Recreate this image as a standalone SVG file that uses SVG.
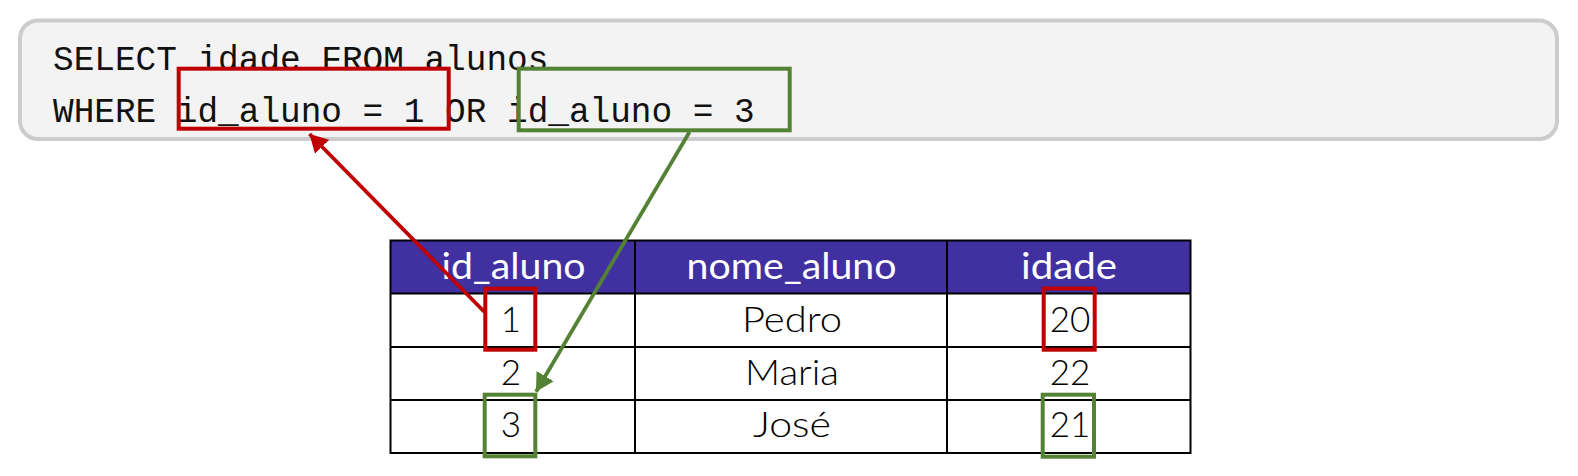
<svg xmlns="http://www.w3.org/2000/svg" width="1578" height="476" viewBox="0 0 1578 476">
  <style>
    .code { font-family: "Liberation Mono", "DejaVu Sans Mono", monospace; font-size: 34.4px; fill: #111111; }
    .th { font-family: "Lato", "Noto Sans", sans-serif; font-size: 36px; fill: #ffffff; text-anchor: middle; }
    .td { font-family: "Lato", "Noto Sans", sans-serif; font-size: 35px; font-weight: 300; fill: #000000; text-anchor: middle; }
    .grid { fill: none; stroke: #000000; stroke-width: 2; }
    .hl-red { fill: none; stroke: #c00000; stroke-width: 4; }
    .hl-green { fill: none; stroke: #548235; stroke-width: 4; }
    .conn-red { fill: none; stroke: #c00000; stroke-width: 3.8; }
    .conn-green { fill: none; stroke: #548235; stroke-width: 3.8; }
  </style>
  <defs>
    <marker id="arrow-red" markerUnits="userSpaceOnUse" markerWidth="20" markerHeight="22" refX="18" refY="10" orient="auto">
      <path d="M0,0 L18,10 L0,20 Z" fill="#c00000"/>
    </marker>
    <marker id="arrow-green" markerUnits="userSpaceOnUse" markerWidth="20" markerHeight="22" refX="18" refY="10" orient="auto">
      <path d="M0,0 L18,10 L0,20 Z" fill="#548235"/>
    </marker>
  </defs>
  <rect width="1578" height="476" fill="#ffffff"/>

  <g id="query">
    <rect x="20" y="20.5" width="1537" height="118.5" rx="18" ry="18" fill="#f3f3f3" stroke="#cccccc" stroke-width="4"/>
    <text class="code" x="53" y="69.5" xml:space="preserve">SELECT idade FROM alunos</text>
    <text class="code" x="53" y="121.7" xml:space="preserve">WHERE id_aluno = 1 OR id_aluno = 3</text>
  </g>

  <g id="cond-1">
    <rect class="hl-red" x="178.7" y="68.7" width="270" height="60"/>
  </g>
  <g id="cond-3">
    <rect class="hl-green" x="518.7" y="68.7" width="271" height="61.6"/>
  </g>

  <g id="table-alunos">
    <rect x="390.5" y="240.5" width="800" height="53" fill="#4130a0"/>
    <rect x="390.5" y="293.5" width="800" height="159.5" fill="#ffffff"/>
    <rect class="grid" x="390.5" y="240.5" width="800" height="212.5"/>
    <line class="grid" x1="390.5" y1="293.5" x2="1190.5" y2="293.5"/>
    <line class="grid" x1="390.5" y1="347" x2="1190.5" y2="347"/>
    <line class="grid" x1="390.5" y1="400" x2="1190.5" y2="400"/>
    <line class="grid" x1="635" y1="240.5" x2="635" y2="453"/>
    <line class="grid" x1="947" y1="240.5" x2="947" y2="453"/>
    <text class="th" x="513.5" y="279.3" textLength="144" lengthAdjust="spacingAndGlyphs">id_aluno</text>
    <text class="th" x="791.5" y="279.3" textLength="210" lengthAdjust="spacingAndGlyphs">nome_aluno</text>
    <text class="th" x="1069" y="279.3" textLength="96" lengthAdjust="spacingAndGlyphs">idade</text>
    <text class="td" x="511" y="332.3">1</text>
    <text class="td" x="792" y="332.3" textLength="100" lengthAdjust="spacingAndGlyphs">Pedro</text>
    <text class="td" x="1070" y="332.3">20</text>
    <text class="td" x="511" y="385.3">2</text>
    <text class="td" x="792" y="385.3" textLength="94" lengthAdjust="spacingAndGlyphs">Maria</text>
    <text class="td" x="1070" y="385.3">22</text>
    <text class="td" x="511" y="437">3</text>
    <text class="td" x="792" y="437" textLength="78" lengthAdjust="spacingAndGlyphs">José</text>
    <text class="td" x="1070" y="437">21</text>
  </g>

  <g id="cell-id-1">
    <rect class="hl-red" x="485.3" y="288.7" width="50" height="61"/>
  </g>
  <g id="cell-idade-20">
    <rect class="hl-red" x="1043.7" y="288.5" width="51" height="61.2"/>
  </g>
  <g id="cell-id-3">
    <rect class="hl-green" x="484.7" y="394.7" width="50.6" height="61.6"/>
  </g>
  <g id="cell-idade-21">
    <rect class="hl-green" x="1042.7" y="394.7" width="51.3" height="62"/>
  </g>

  <g id="connectors">
    <line class="conn-red" x1="484.5" y1="312" x2="309.5" y2="134" marker-end="url(#arrow-red)"/>
    <line class="conn-green" x1="689.5" y1="132" x2="536" y2="391.7" marker-end="url(#arrow-green)"/>
  </g>
</svg>
